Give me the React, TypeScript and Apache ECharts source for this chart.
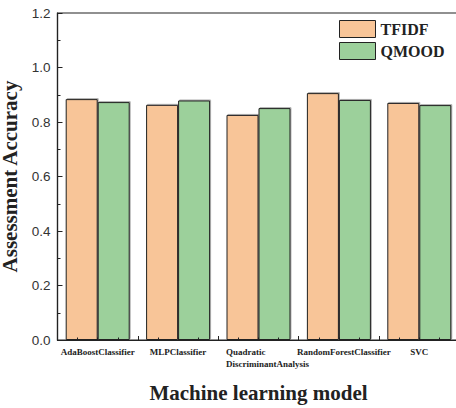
import React, { useEffect, useRef } from "react";
import * as echarts from "echarts";

// Classifiers compared, one group of bars each
const categories = [
  "AdaBoostClassifier",
  "MLPClassifier",
  "Quadratic DiscriminantAnalysis",
  "RandomForestClassifier",
  "SVC",
];

// Assessment accuracy per classifier
const tfidfValues = [0.884, 0.863, 0.826, 0.906, 0.87];
const qmoodValues = [0.873, 0.879, 0.851, 0.881, 0.862];

const seriesNames = ["TFIDF", "QMOOD"];
const yTicks = { min: 0, max: 1.2, interval: 0.2 };

const SERIF = "'Liberation Serif', 'Times New Roman', serif";
const SANS = "'Liberation Sans', Arial, sans-serif";
const INK = "#222";

const barStyle = (color: string) => ({
  color,
  borderColor: INK,
  borderWidth: 1,
  shadowColor: "rgba(0,0,0,0.3)",
  shadowBlur: 0,
  shadowOffsetX: 1,
  shadowOffsetY: -1,
});

export default function App() {
  const ref = useRef<HTMLDivElement>(null);

  useEffect(() => {
    if (!ref.current) return;
    const chart = echarts.init(ref.current, null, { renderer: "svg" });

    const base = { fontFamily: SERIF, fontWeight: "bold" as const, fontSize: 9, color: INK, lineHeight: 12 };
    const labelRich = {
      c: { ...base },
      q: { ...base, align: "left" as const, padding: [0, 0, 0, 18] },
      r: { ...base, padding: [0, 0, 0, 10] },
    };

    chart.setOption({
      animation: false,
      backgroundColor: "#fff",
      grid: {
        left: 57.5,
        top: 13,
        width: 402,
        height: 327,
        outerBoundsMode: "none",
        containLabel: false,
        show: true,
        borderColor: INK,
        borderWidth: 1.2,
        backgroundColor: "transparent",
      },
      legend: {
        orient: "vertical",
        left: 339,
        top: 20,
        padding: 0,
        itemWidth: 36,
        itemHeight: 17,
        itemGap: 4,
        icon: "rect",
        data: seriesNames,
        itemStyle: { borderWidth: 1, borderColor: INK, shadowColor: "transparent" },
        textStyle: { fontFamily: SERIF, fontWeight: "bold", fontSize: 16, color: INK },
      },
      xAxis: [
        {
          type: "category",
          data: categories,
          z: 10,
          boundaryGap: true,
          name: "Machine learning model",
          nameLocation: "middle",
          nameGap: 42,
          nameTextStyle: { fontFamily: SERIF, fontWeight: "bold", fontSize: 21, color: INK },
          axisLine: { lineStyle: { color: INK, width: 1.2 } },
          axisTick: { show: false },
          axisLabel: {
            margin: 6,
            interval: 0,
            hideOverlap: false,
            formatter: (v: string) => {
              if (v.startsWith("Quadratic")) {
                const [a, b] = v.split(" ");
                return `{q|${a}}\n{q|${b}}`;
              }
              if (v.startsWith("RandomForest")) return `{r|${v}}`;
              return `{c|${v}}`;
            },
            rich: labelRich,
          },
        },
        {
          // value overlay that carries the boundary and minor ticks
          type: "value",
          min: 0,
          max: categories.length,
          interval: 1,
          position: "bottom",
          z: 10,
          axisLine: { show: false },
          axisLabel: { show: false },
          splitLine: { show: false },
          axisTick: { show: true, inside: true, length: 4, lineStyle: { color: INK, width: 1 } },
          minorTick: { show: true, splitNumber: 4, length: 2.5, lineStyle: { color: INK, width: 1 } },
        },
      ],
      yAxis: {
        type: "value",
        min: yTicks.min,
        max: yTicks.max,
        interval: yTicks.interval,
        z: 10,
        name: "Assessment Accuracy",
        nameLocation: "middle",
        nameGap: 29,
        nameTextStyle: { fontFamily: SERIF, fontWeight: "bold", fontSize: 21, color: INK },
        axisLine: { show: true, lineStyle: { color: INK, width: 1.2 } },
        axisTick: { show: true, inside: true, length: 5, lineStyle: { color: INK, width: 1 } },
        minorTick: { show: true, splitNumber: 2, length: 3, lineStyle: { color: INK, width: 1 } },
        splitLine: { show: false },
        axisLabel: {
          margin: 7,
          fontFamily: SANS,
          fontSize: 13.5,
          color: "#333",
          formatter: (v: number) => v.toFixed(1),
        },
      },
      series: [
        {
          name: seriesNames[0],
          type: "bar",
          xAxisIndex: 0,
          data: tfidfValues,
          barGap: "0%",
          barCategoryGap: "20.4%",
          itemStyle: barStyle("#F8C598"),
        },
        {
          name: seriesNames[1],
          type: "bar",
          xAxisIndex: 0,
          data: qmoodValues,
          barGap: "0%",
          barCategoryGap: "20.4%",
          itemStyle: barStyle("#9CD09B"),
        },
      ],
    });

    return () => chart.dispose();
  }, []);

  return (
    <div
      ref={ref}
      style={{ position: "absolute", left: 0, top: 0, width: 456, height: 408 }}
    />
  );
}
